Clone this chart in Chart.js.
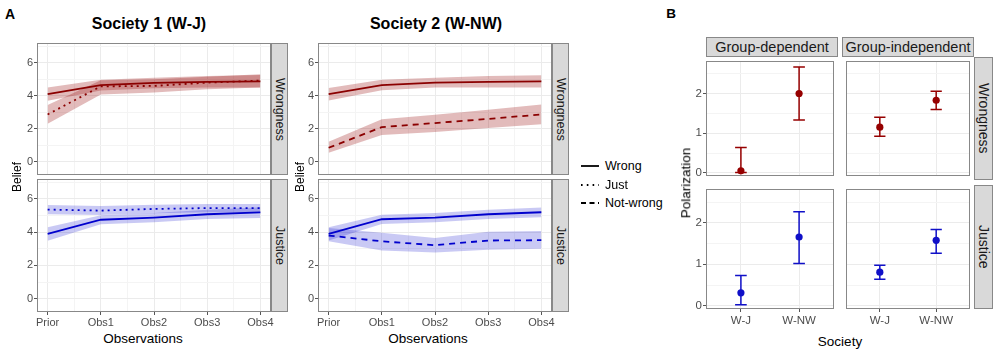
<!DOCTYPE html>
<html><head><meta charset="utf-8">
<script src="https://cdn.jsdelivr.net/npm/chart.js@4"></script>
<style>
body{margin:0;background:#fff;}
#root{position:relative;width:1000px;height:355px;overflow:hidden;font-family:'Liberation Sans',Arial,sans-serif;background:#fff;}
.strip{position:absolute;background:#D9D9D9;border:1px solid #888;box-sizing:border-box;display:flex;align-items:center;justify-content:center;color:#1a1a1a;white-space:nowrap;line-height:1;}
</style>
</head><body><div id="root"></div>
<script>
// ---------------- DATA ----------------
const obsLabels = ['Prior','Obs1','Obs2','Obs3','Obs4'];
const beliefTicks = [0,2,4,6];

// Society 1 (W-J) — Wrongness
const s1WrongnessWrong   = [4.10, 4.65, 4.78, 4.85, 4.88];
const s1WrongnessWrongLo = [3.70, 4.32, 4.46, 4.50, 4.50];
const s1WrongnessWrongHi = [4.50, 4.98, 5.10, 5.20, 5.26];
const s1WrongnessJust    = [2.87, 4.57, 4.60, 4.80, 4.92];
const s1WrongnessJustLo  = [2.30, 4.08, 4.20, 4.40, 4.50];
const s1WrongnessJustHi  = [3.45, 4.95, 5.00, 5.15, 5.30];
// Society 1 (W-J) — Justice
const s1JusticeWrong   = [3.90, 4.75, 4.88, 5.08, 5.19];
const s1JusticeWrongLo = [3.48, 4.48, 4.60, 4.80, 4.85];
const s1JusticeWrongHi = [4.30, 5.02, 5.15, 5.35, 5.50];
const s1JusticeJust    = [5.36, 5.30, 5.40, 5.45, 5.45];
const s1JusticeJustLo  = [5.08, 5.04, 5.14, 5.20, 5.20];
const s1JusticeJustHi  = [5.64, 5.58, 5.65, 5.70, 5.70];
// Society 2 (W-NW) — Wrongness
const s2WrongnessWrong      = [4.10, 4.65, 4.80, 4.85, 4.88];
const s2WrongnessWrongLo    = [3.72, 4.33, 4.50, 4.50, 4.50];
const s2WrongnessWrongHi    = [4.48, 4.98, 5.10, 5.20, 5.25];
const s2WrongnessNotWrong   = [0.85, 2.10, 2.35, 2.60, 2.87];
const s2WrongnessNotWrongLo = [0.55, 1.62, 1.80, 2.05, 2.28];
const s2WrongnessNotWrongHi = [1.22, 2.58, 2.85, 3.15, 3.47];
// Society 2 (W-NW) — Justice
const s2JusticeWrong      = [3.90, 4.78, 4.88, 5.08, 5.20];
const s2JusticeWrongLo    = [3.50, 4.50, 4.60, 4.80, 4.90];
const s2JusticeWrongHi    = [4.30, 5.05, 5.15, 5.35, 5.48];
const s2JusticeNotWrong   = [3.80, 3.45, 3.22, 3.50, 3.52];
const s2JusticeNotWrongLo = [3.45, 2.90, 2.78, 2.95, 3.00];
const s2JusticeNotWrongHi = [4.25, 3.97, 3.65, 4.02, 4.07];

// Panel B — Polarization
const societies = ['W-J','W-NW'];
const polarTicks = [0,1,2];
const wrongDepMean = [0.05, 2.00], wrongDepLo = [0.01, 1.33], wrongDepHi = [0.64, 2.67];
const wrongIndMean = [1.15, 1.83], wrongIndLo = [0.92, 1.60], wrongIndHi = [1.40, 2.06];
const justDepMean  = [0.31, 1.66], justDepLo  = [0.02, 1.02], justDepHi  = [0.73, 2.27];
const justIndMean  = [0.81, 1.58], justIndLo  = [0.64, 1.27], justIndHi  = [0.98, 1.84];

// ---------------- STYLE ----------------
const RED = '#8B0000', RED_RIB = 'rgba(150,10,10,0.28)';
const BLUE = '#0000CD', BLUE_RIB = 'rgba(0,0,205,0.21)';
const PT_RED = '#960000', PT_BLUE = '#1010C8';
const DOT = [2,4], DASH = [6,5];
const GRID = '#EBEBEB', GRID_MINOR = '#F4F4F4', TICKC = '#555', TXT = '#4D4D4D';
Chart.defaults.font.family = "'Liberation Sans', Arial, sans-serif";

const root = document.getElementById('root');
function mkCanvas(x,y,w,h){const c=document.createElement('canvas');c.width=w;c.height=h;c.style.cssText=`position:absolute;left:${x}px;top:${y}px;width:${w}px;height:${h}px;`;root.appendChild(c);return c;}
function txt(s,x,y,o={}){const d=document.createElement('div');d.textContent=s;
  d.style.cssText=`position:absolute;left:${x}px;top:${y}px;white-space:nowrap;line-height:1;font-size:${o.size||12}px;font-weight:${o.weight||'normal'};color:${o.color||'#000'};transform:translate(${o.left?'0':'-50%'},-50%)${o.rot?` rotate(${o.rot}deg)`:''};`;
  root.appendChild(d);}
function strip(label,x,y,w,h,vertical,size){const d=document.createElement('div');d.className='strip';
  d.style.left=x+'px';d.style.top=y+'px';d.style.width=w+'px';d.style.height=h+'px';d.style.fontSize=size+'px';
  const s=document.createElement('span');s.textContent=label;if(vertical)s.style.writingMode='vertical-rl';d.appendChild(s);root.appendChild(d);}

const panelBorder = {id:'panelBorder', afterDraw(chart){const a=chart.chartArea,ctx=chart.ctx;ctx.save();ctx.strokeStyle='#888';ctx.lineWidth=1;
  ctx.strokeRect(Math.round(a.left)+0.5,Math.round(a.top)+0.5,Math.round(a.right-a.left)-1,Math.round(a.bottom-a.top)-1);ctx.restore();}};
function zeroPad(s){s.paddingLeft=0;s.paddingRight=0;s.paddingTop=0;s.paddingBottom=0;}
const pts = vals => vals.map((v,i)=>({x:i,y:v}));
const baseOpts = {responsive:false,animation:false,devicePixelRatio:1,events:[],
  plugins:{legend:{display:false},tooltip:{enabled:false}}};

// ---------------- PANEL A ----------------
function beliefFacet(x,y,w,h,yW,padR,showX,lines,ribbons){
  const c = mkCanvas(x,y,w,h);
  const datasets = [];
  lines.forEach(l=>datasets.push({data:pts(l.vals),borderColor:l.color,borderWidth:1.8,borderDash:l.dash,pointRadius:0,fill:false,tension:0}));
  ribbons.forEach(r=>{
    datasets.push({data:pts(r.lo),borderColor:'rgba(0,0,0,0)',borderWidth:0,pointRadius:0,fill:false});
    datasets.push({data:pts(r.hi),borderColor:'rgba(0,0,0,0)',borderWidth:0,pointRadius:0,fill:'-1',backgroundColor:r.color});
  });
  new Chart(c,{type:'line',data:{datasets},plugins:[panelBorder],options:Object.assign({},baseOpts,{
    layout:{padding:{left:0,top:0,right:padR,bottom:0}},
    scales:{
      x:{type:'linear',min:-0.2,max:4.2,
        afterBuildTicks:s=>{s.ticks=[0,0.5,1,1.5,2,2.5,3,3.5,4].map(v=>({value:v}));},
        ticks:{display:showX,autoSkip:false,maxRotation:0,color:TXT,font:{size:11},padding:1,callback:v=>Number.isInteger(v)?obsLabels[v]:''},
        grid:{color:c=>Number.isInteger(c.tick.value)?GRID:GRID_MINOR,drawTicks:showX,tickLength:3,tickColor:c=>Number.isInteger(c.tick.value)?TICKC:'rgba(0,0,0,0)'},
        border:{display:false},
        afterFit:s=>{s.height=showX?h-133:0;zeroPad(s);}},
      y:{min:-0.8,max:7.2,
        afterBuildTicks:s=>{s.ticks=[0,1,2,3,4,5,6,7].map(v=>({value:v}));},
        ticks:{color:TXT,font:{size:11},padding:1,callback:v=>beliefTicks.includes(v)?String(v):''},
        grid:{color:c=>beliefTicks.includes(c.tick.value)?GRID:GRID_MINOR,tickLength:3,tickColor:c=>beliefTicks.includes(c.tick.value)?TICKC:'rgba(0,0,0,0)'},
        border:{display:false},
        afterFit:s=>{s.width=yW;zeroPad(s);}}
    }})});
}
// Society 1
beliefFacet(0,43,288,132,37,17,false,
  [{vals:s1WrongnessWrong,color:RED,dash:[]},{vals:s1WrongnessJust,color:RED,dash:DOT}],
  [{lo:s1WrongnessWrongLo,hi:s1WrongnessWrongHi,color:RED_RIB},{lo:s1WrongnessJustLo,hi:s1WrongnessJustHi,color:RED_RIB}]);
beliefFacet(0,179,288,151,37,17,true,
  [{vals:s1JusticeWrong,color:BLUE,dash:[]},{vals:s1JusticeJust,color:BLUE,dash:DOT}],
  [{lo:s1JusticeWrongLo,hi:s1JusticeWrongHi,color:BLUE_RIB},{lo:s1JusticeJustLo,hi:s1JusticeJustHi,color:BLUE_RIB}]);
// Society 2
beliefFacet(288,43,281,132,30,17,false,
  [{vals:s2WrongnessWrong,color:RED,dash:[]},{vals:s2WrongnessNotWrong,color:RED,dash:DASH}],
  [{lo:s2WrongnessWrongLo,hi:s2WrongnessWrongHi,color:RED_RIB},{lo:s2WrongnessNotWrongLo,hi:s2WrongnessNotWrongHi,color:RED_RIB}]);
beliefFacet(288,179,281,151,30,17,true,
  [{vals:s2JusticeWrong,color:BLUE,dash:[]},{vals:s2JusticeNotWrong,color:BLUE,dash:DASH}],
  [{lo:s2JusticeWrongLo,hi:s2JusticeWrongHi,color:BLUE_RIB},{lo:s2JusticeNotWrongLo,hi:s2JusticeNotWrongHi,color:BLUE_RIB}]);

strip('Wrongness',271,43,17,132,true,12.5);
strip('Justice',271,179,17,133,true,12.5);
strip('Wrongness',552,43,17,132,true,12.5);
strip('Justice',552,179,17,133,true,12.5);

txt('A',10,14,{size:14,weight:'bold'});
txt('Society 1 (W-J)',149,24,{size:16,weight:'bold'});
txt('Society 2 (W-NW)',436,24,{size:16,weight:'bold'});
txt('Belief',17,177,{size:12,rot:-90});
txt('Belief',300,177,{size:12,rot:-90});
txt('Observations',143,339,{size:13.5});
txt('Observations',428,339,{size:13.5});

// legend
const svgNS='http://www.w3.org/2000/svg';
const svg=document.createElementNS(svgNS,'svg');svg.setAttribute('width','30');svg.setAttribute('height','60');
svg.style.cssText='position:absolute;left:575px;top:155px;';
[[11,'none'],[30,'1.6 4.2'],[48,'5 3.5']].forEach(([yy,da])=>{const l=document.createElementNS(svgNS,'line');
  l.setAttribute('x1','6');l.setAttribute('x2','24');l.setAttribute('y1',yy);l.setAttribute('y2',yy);l.setAttribute('stroke','#000');l.setAttribute('stroke-width','1.8');
  if(da!=='none')l.setAttribute('stroke-dasharray',da);svg.appendChild(l);});
root.appendChild(svg);
txt('Wrong',605,166,{size:12.5,left:true});
txt('Just',605,185,{size:12.5,left:true});
txt('Not-wrong',605,203,{size:12.5,left:true});

// ---------------- PANEL B ----------------
function polarFacet(x,y,w,h,yW,showX,mean,lo,hi,color){
  const c = mkCanvas(x,y,w,h);
  const errorBars = {id:'errorBars',beforeDatasetsDraw(chart){const {ctx,scales:{x:xs,y:ys}}=chart;ctx.save();ctx.strokeStyle=color;ctx.lineWidth=1.5;
    mean.forEach((m,i)=>{const xv=i+1,px=xs.getPixelForValue(xv),x0=xs.getPixelForValue(xv-0.1),x1=xs.getPixelForValue(xv+0.1),
      yl=ys.getPixelForValue(lo[i]),yh=ys.getPixelForValue(hi[i]);
      ctx.beginPath();ctx.moveTo(px,yl);ctx.lineTo(px,yh);ctx.moveTo(x0,yl);ctx.lineTo(x1,yl);ctx.moveTo(x0,yh);ctx.lineTo(x1,yh);ctx.stroke();});
    ctx.restore();}};
  const isMaj = v => polarTicks.includes(v);
  new Chart(c,{type:'scatter',data:{datasets:[{data:mean.map((v,i)=>({x:i+1,y:v})),pointRadius:3.6,pointBackgroundColor:color,pointBorderColor:color,borderWidth:0,clip:false}]},
    plugins:[errorBars,panelBorder],options:Object.assign({},baseOpts,{
    layout:{padding:0},
    scales:{
      x:{type:'linear',min:0.4,max:2.6,
        afterBuildTicks:s=>{s.ticks=[1,2].map(v=>({value:v}));},
        ticks:{display:showX,autoSkip:false,maxRotation:0,color:TXT,font:{size:11.5},padding:2,callback:v=>societies[v-1]},
        grid:{color:GRID,drawTicks:showX,tickLength:3,tickColor:TICKC},
        border:{display:false},
        afterFit:s=>{s.height=showX?h-124:0;zeroPad(s);}},
      y:{min:-0.08,max:2.82,
        afterBuildTicks:s=>{s.ticks=[0,0.5,1,1.5,2,2.5].map(v=>({value:v}));},
        ticks:{display:yW>0,color:TXT,font:{size:11.5},padding:1,callback:v=>isMaj(v)?String(v):''},
        grid:{color:c=>isMaj(c.tick.value)?GRID:GRID_MINOR,drawTicks:yW>0,tickLength:3,tickColor:c=>isMaj(c.tick.value)?TICKC:'rgba(0,0,0,0)'},
        border:{display:false},
        afterFit:s=>{s.width=yW;zeroPad(s);}}
    }})});
}
polarFacet(660,57,178,123,46,false,wrongDepMean,wrongDepLo,wrongDepHi,PT_RED);
polarFacet(842,57,132,123,0,false,wrongIndMean,wrongIndLo,wrongIndHi,PT_RED);
polarFacet(660,185,178,146,46,true,justDepMean,justDepLo,justDepHi,PT_BLUE);
polarFacet(842,185,132,146,0,true,justIndMean,justIndLo,justIndHi,PT_BLUE);

strip('Group-dependent',706,37,132,20,false,14.5);
strip('Group-independent',842,37,132,20,false,14.5);
strip('Wrongness',974,57,19,123,true,14);
strip('Justice',974,185,19,124,true,14);

txt('B',671,14,{size:13.5,weight:'bold'});
txt('Polarization',686,183,{size:13.5,rot:-90});
txt('Society',840,342,{size:13.5});
</script></body></html>
